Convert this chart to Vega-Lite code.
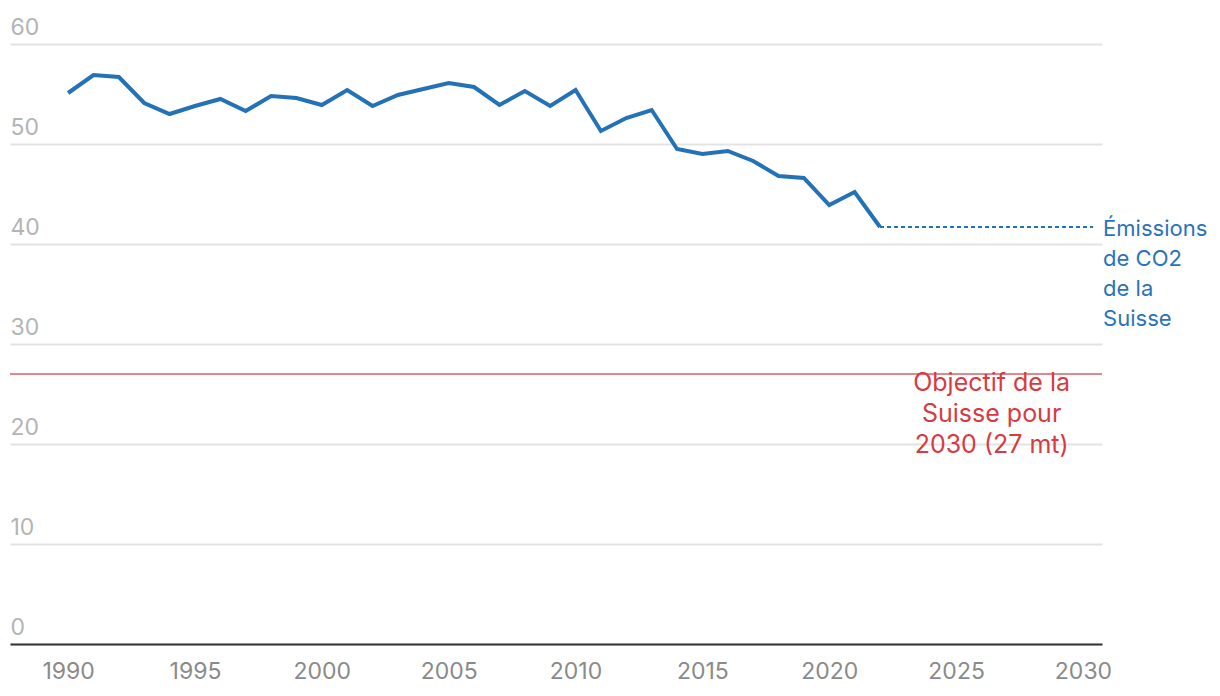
{
  "$schema": "https://vega.github.io/schema/vega-lite/v6.json",
  "width": 1092,
  "height": 600,
  "autosize": {"type": "none"},
  "padding": {"left": 10, "top": 44, "right": 118, "bottom": 52},
  "background": "white",
  "config": {
    "view": {"stroke": null},
    "font": "Inter",
    "axis": {"labelFont": "Inter"}
  },
  "datasets": {
    "co2": [
      {"year": 1990, "value": 55.1},
      {"year": 1991, "value": 56.9},
      {"year": 1992, "value": 56.7},
      {"year": 1993, "value": 54.1},
      {"year": 1994, "value": 53.0},
      {"year": 1995, "value": 53.8},
      {"year": 1996, "value": 54.5},
      {"year": 1997, "value": 53.3},
      {"year": 1998, "value": 54.8},
      {"year": 1999, "value": 54.6},
      {"year": 2000, "value": 53.9},
      {"year": 2001, "value": 55.4},
      {"year": 2002, "value": 53.8},
      {"year": 2003, "value": 54.9},
      {"year": 2004, "value": 55.5},
      {"year": 2005, "value": 56.1},
      {"year": 2006, "value": 55.7},
      {"year": 2007, "value": 53.9},
      {"year": 2008, "value": 55.3},
      {"year": 2009, "value": 53.8},
      {"year": 2010, "value": 55.4},
      {"year": 2011, "value": 51.3},
      {"year": 2012, "value": 52.6},
      {"year": 2013, "value": 53.4},
      {"year": 2014, "value": 49.5},
      {"year": 2015, "value": 49.0},
      {"year": 2016, "value": 49.3},
      {"year": 2017, "value": 48.3},
      {"year": 2018, "value": 46.8},
      {"year": 2019, "value": 46.6},
      {"year": 2020, "value": 43.9},
      {"year": 2021, "value": 45.2},
      {"year": 2022, "value": 41.7}
    ],
    "proj": [
      {"year": 2022, "value": 41.7},
      {"year": 2030.4, "value": 41.7}
    ],
    "target": [{"value": 27}],
    "lblBlue": [{"year": 2030.4, "value": 41.7, "label": "Émissions\nde CO2\nde la\nSuisse"}],
    "lblRed": [{"year": 2026.4, "value": 27, "label": "Objectif de la\nSuisse pour\n2030 (27 mt)"}]
  },
  "layer": [
    {
      "data": {"name": "co2"},
      "mark": {"type": "line", "color": "#2371b7", "strokeWidth": 4, "strokeJoin": "miter"},
      "encoding": {
        "x": {
          "field": "year", "type": "quantitative",
          "scale": {"domain": [1987.71, 2030.75], "nice": false, "zero": false},
          "axis": {
            "values": [1990, 1995, 2000, 2005, 2010, 2015, 2020, 2025, 2030],
            "format": "d",
            "title": null,
            "grid": false,
            "ticks": false,
            "domain": true,
            "domainColor": "#333333",
            "domainWidth": 2,
            "labelFontSize": 23,
            "labelColor": "#8a8a8a",
            "labelPadding": 16,
            "labelBaseline": "top"
          }
        },
        "y": {
          "field": "value", "type": "quantitative",
          "scale": {"domain": [0, 60], "nice": false, "zero": false},
          "axis": {
            "values": [0, 10, 20, 30, 40, 50, 60],
            "title": null,
            "grid": true,
            "gridColor": "#e3e3e3",
            "gridWidth": 2,
            "ticks": false,
            "tickSize": 0,
            "domain": false,
            "labelFontSize": 23,
            "labelColor": "#b4b4b4",
            "labelAlign": "left",
            "labelBaseline": "alphabetic",
            "labelPadding": 0,
            "labelOffset": -10
          }
        }
      }
    },
    {
      "data": {"name": "target"},
      "mark": {"type": "rule", "color": "#d6606b", "strokeWidth": 1.5},
      "encoding": {
        "y": {"field": "value", "type": "quantitative"}
      }
    },
    {
      "data": {"name": "proj"},
      "mark": {"type": "line", "color": "#2371b7", "strokeWidth": 2, "strokeDash": [4, 3]},
      "encoding": {
        "x": {"field": "year", "type": "quantitative"},
        "y": {"field": "value", "type": "quantitative"}
      }
    },
    {
      "data": {"name": "lblBlue"},
      "mark": {"type": "text", "color": "#2a73bb", "fontSize": 22, "align": "left", "baseline": "top", "lineBreak": "\n", "lineHeight": 30, "dx": 10, "dy": -8},
      "encoding": {
        "x": {"field": "year", "type": "quantitative"},
        "y": {"field": "value", "type": "quantitative"},
        "text": {"field": "label"}
      }
    },
    {
      "data": {"name": "lblRed"},
      "mark": {"type": "text", "color": "#d83a42", "fontSize": 25, "align": "center", "baseline": "top", "lineBreak": "\n", "lineHeight": 31, "dy": -3},
      "encoding": {
        "x": {"field": "year", "type": "quantitative"},
        "y": {"field": "value", "type": "quantitative"},
        "text": {"field": "label"}
      }
    }
  ]
}
